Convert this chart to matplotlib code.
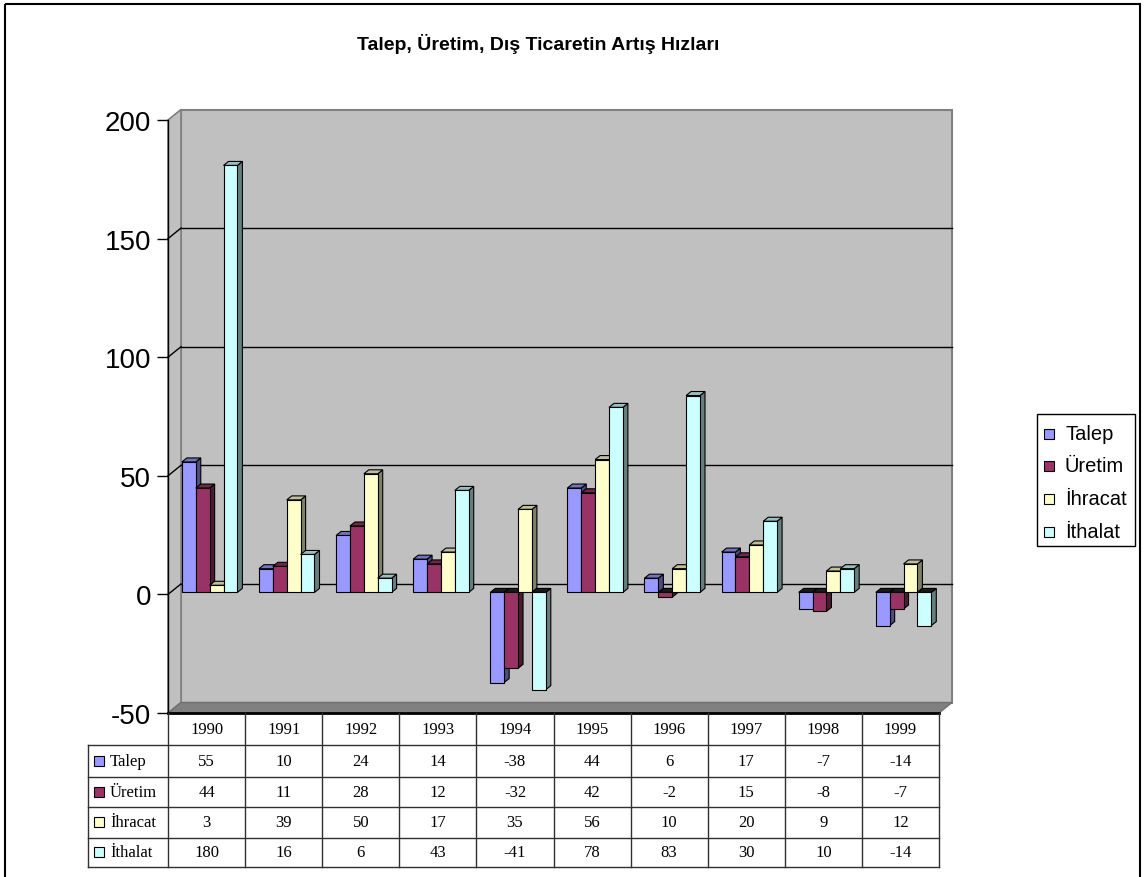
import matplotlib
matplotlib.use('Agg')
import matplotlib.pyplot as plt
from matplotlib.patches import Polygon, Rectangle
from matplotlib.transforms import Affine2D
from matplotlib.lines import Line2D
import numpy as np

# ---------------- data ----------------
years = ['1990', '1991', '1992', '1993', '1994', '1995', '1996', '1997', '1998', '1999']
series = ['Talep', 'Üretim', 'İhracat', 'İthalat']
talep = [55, 10, 24, 14, -38, 44, 6, 17, -7, -14]
uretim = [44, 11, 28, 12, -32, 42, -2, 15, -8, -7]
ihracat = [3, 39, 50, 17, 35, 56, 10, 20, 9, 12]
ithalat = [180, 16, 6, 43, -41, 78, 83, 30, 10, -14]
values = [talep, uretim, ihracat, ithalat]
colors = ['#9999FF', '#993366', '#FFFFCC', '#CCFFFF']
yticks = [-50, 0, 50, 100, 150, 200]
title = 'Talep, Üretim, Dış Ticaretin Artış Hızları'

SANS = 'Liberation Sans'
SERIF = 'Liberation Serif'

W, H = 1145, 878
fig = plt.figure(figsize=(W / 100, H / 100), dpi=100)
PX = Affine2D().scale(1 / W, -1 / H).translate(0, 1) + fig.transFigure

# outer frame
fig.patches.append(Rectangle((5, 5), 1135, 900, transform=PX, fill=False,
                             edgecolor='black', lw=1.5, zorder=0))

# title
fig.text(538, 44, title, transform=PX, ha='center', va='center',
         fontsize=14, fontweight='bold', family=SANS)

# ---------------- main axes (front plane) ----------------
L, R, T, B = 168, 939, 121, 714
ax = fig.add_axes([L / W, 1 - B / H, (R - L) / W, (B - T) / H])
ncat = len(years)
ax.set_xlim(0, ncat)
ax.set_ylim(-50, 200)
ax.patch.set_visible(False)
for s in ['top', 'right', 'bottom']:
    ax.spines[s].set_visible(False)
ax.spines['left'].set_color('black')
ax.spines['left'].set_linewidth(1.0)
ax.set_xticks([])
ax.set_yticks(yticks)
ax.set_yticklabels([str(v) for v in yticks], fontsize=20, family=SANS)
ax.tick_params(axis='y', direction='out', length=8, width=1.0, pad=4, color='black')

ppx = (R - L) / ncat
ppy = (B - T) / 250.0
WDX, WDY = 13 / ppx, 10.5 / ppy      # wall depth
BDX, BDY = 5 / ppx, 4 / ppy          # bar depth
SHY = 2 / ppy                         # bars sit slightly behind front plane

# back wall
ax.add_patch(Rectangle((WDX, -50 + WDY), ncat, 250, facecolor='#C0C0C0',
                       edgecolor='#808080', lw=1.5, clip_on=False, zorder=0.2))
# left wall
ax.add_patch(Polygon([(0, -50), (WDX, -50 + WDY), (WDX, 200 + WDY), (0, 200)],
                     closed=True, facecolor='#C0C0C0', edgecolor='#808080', lw=1.2,
                     clip_on=False, zorder=0.3))
# floor
ax.add_patch(Polygon([(0, -50), (ncat, -50), (ncat + WDX, -50 + WDY), (WDX, -50 + WDY)],
                     closed=True, facecolor='#808080', edgecolor='#707070', lw=1.0,
                     clip_on=False, zorder=0.4))
ax.add_line(Line2D([0, ncat], [-50, -50], color='black', lw=2.0, clip_on=False, zorder=0.5))

# gridlines on the walls
for v in yticks[1:-1]:
    ax.add_line(Line2D([WDX, ncat + WDX], [v + WDY, v + WDY], color='black', lw=1.0,
                       clip_on=False, zorder=0.6))
    ax.add_line(Line2D([0, WDX], [v, v + WDY], color='black', lw=1.0,
                       clip_on=False, zorder=0.6))

# ---------------- 3D bars ----------------
def shade(c, f):
    r, g, b = matplotlib.colors.to_rgb(c)
    return (r * f, g * f, b * f)

BW = 0.18
G0 = 0.18
z = 1.0
for i in range(ncat):
    for k in range(len(series)):
        v = values[k][i]
        x0 = i + G0 + k * BW
        x1 = x0 + BW
        y0 = min(0, v) + SHY
        y1 = max(0, v) + SHY
        c = colors[k]
        side = Polygon([(x1, y0), (x1 + BDX, y0 + BDY), (x1 + BDX, y1 + BDY), (x1, y1)],
                       closed=True, facecolor=shade(c, 0.5), edgecolor='black', lw=0.8,
                       clip_on=False, zorder=z)
        topc = shade(c, 0.75) if v >= 0 else '#1a1a1a'
        top = Polygon([(x0, y1), (x1, y1), (x1 + BDX, y1 + BDY), (x0 + BDX, y1 + BDY)],
                      closed=True, facecolor=topc, edgecolor='black', lw=0.8,
                      clip_on=False, zorder=z)
        ax.add_patch(side)
        ax.add_patch(top)
        ax.bar(x0, y1 - y0, width=BW, bottom=y0, align='edge', color=c,
               edgecolor='black', lw=0.8, zorder=z + 0.01, clip_on=False)
        z += 0.02

# ---------------- data table ----------------
row_y = [714, 746, 778, 808, 839, 868]
TL = 88
lc = '#303030'
def hline(x0, x1, y, lw=1.0):
    fig.lines.append(Line2D([x0, x1], [y, y], transform=PX, color=lc, lw=lw))
def vline(x, y0, y1, lw=1.0):
    fig.lines.append(Line2D([x, x], [y0, y1], transform=PX, color=lc, lw=lw))

for y in row_y[1:]:
    hline(TL, R, y)
vline(TL, row_y[1], row_y[-1])
for j in range(ncat + 1):
    vline(L + j * ppx, row_y[0], row_y[-1])

TFS = 12
for j, yr in enumerate(years):
    cx = L + (j + 0.5) * ppx
    fig.text(cx, (row_y[0] + row_y[1]) / 2, yr, transform=PX, ha='center', va='center',
             fontsize=TFS, family=SERIF)
for k, name in enumerate(series):
    cy = (row_y[k + 1] + row_y[k + 2]) / 2
    fig.patches.append(Rectangle((94, cy - 5), 10, 10, transform=PX, facecolor=colors[k],
                                 edgecolor='black', lw=0.8))
    fig.text(110, cy, name, transform=PX, ha='left', va='center', fontsize=TFS, family=SERIF)
    for j in range(ncat):
        cx = L + (j + 0.5) * ppx
        fig.text(cx, cy, str(values[k][j]), transform=PX, ha='center', va='center',
                 fontsize=TFS, family=SERIF)

# ---------------- legend ----------------
fig.patches.append(Rectangle((1037, 415), 98, 132, transform=PX, fill=False,
                             edgecolor='black', lw=1.0))
leg_y = [435, 467, 500, 533]
for k, name in enumerate(series):
    fig.patches.append(Rectangle((1044, leg_y[k] - 5), 10, 10, transform=PX,
                                 facecolor=colors[k], edgecolor='black', lw=0.8))
    fig.text(1065, leg_y[k], name, transform=PX, ha='left', va='center',
             fontsize=14.5, family=SANS)

fig.savefig('out.png', dpi=100)
